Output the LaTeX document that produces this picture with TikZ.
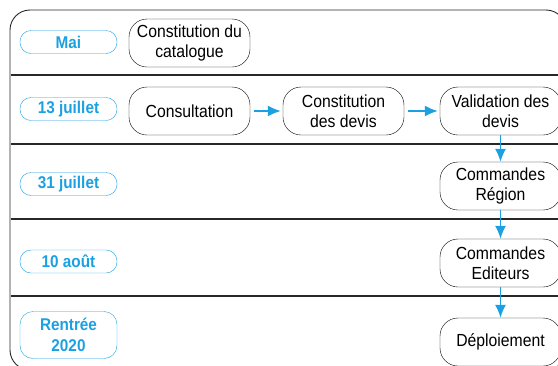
\documentclass[tikz,border=0pt]{standalone}
\usepackage{fontspec}
\setmainfont[FakeStretch=0.9]{Liberation Sans}
\usetikzlibrary{arrows.meta}
\definecolor{dateblue}{RGB}{27,160,226}
\definecolor{lanegrey}{RGB}{40,40,40}

\begin{document}
\begin{tikzpicture}[x=1pt, y=-1pt,
    task/.style={draw, rounded corners=18pt, minimum width=121pt, minimum height=48pt,
      align=center, font=\fontsize{17.5}{20.5}\selectfont, inner sep=0pt},
    date/.style={draw=dateblue, text=dateblue, rounded corners=11pt, minimum width=97pt,
      minimum height=23pt, align=center, font=\fontsize{17}{20.5}\selectfont\bfseries, inner sep=0pt},
    flow/.style={dateblue, line width=1.5pt, -{Latex[length=13pt,width=11pt]}}]
    \useasboundingbox (0,0) rectangle (558,365);
    \clip (0,0) rectangle (558,365);

    % Frame and lanes
    \draw [lanegrey, line width=0.9pt, rounded corners=20pt] (10,10) rectangle (566,370);
    \foreach \y in {75,144,219,296}
        \draw [lanegrey, line width=1.6pt] (11,\y) -- (570,\y);

    % Dates
    \node [date] (mai) at (68.5,42) {Mai};
    \node [date] (j13) at (68.5,109) {13 juillet};
    \node [date] (j31) at (68.5,184) {31 juillet};
    \node [date] (aout) at (68.5,261.5) {10 août};
    \node [date, minimum height=47pt, rounded corners=13pt] (rentree) at (68.5,335) {Rentrée\\2020};

    % Tasks
    \node [task] (catalogue) at (189.5,43) {Constitution du\\catalogue};
    \node [task] (consult) at (189.5,111) {Consultation};
    \node [task] (devis) at (343.5,111) {Constitution\\des devis};
    \node [task] (valid) at (500.5,111) {Validation des\\devis};
    \node [task] (region) at (500.5,186) {Commandes\\Région};
    \node [task] (editeurs) at (500.5,263) {Commandes\\Editeurs};
    \node [task] (deploi) at (500.5,342) {Déploiement};

    % Arrows
    \draw [flow, shorten <=4pt, shorten >=2pt] (consult) -- (devis);
    \draw [flow, shorten <=4pt, shorten >=2pt] (devis) -- (valid);
    \draw [flow] (valid) -- (region);
    \draw [flow] (region) -- (editeurs);
    \draw [flow] (editeurs) -- (deploi);
\end{tikzpicture}
\end{document}
